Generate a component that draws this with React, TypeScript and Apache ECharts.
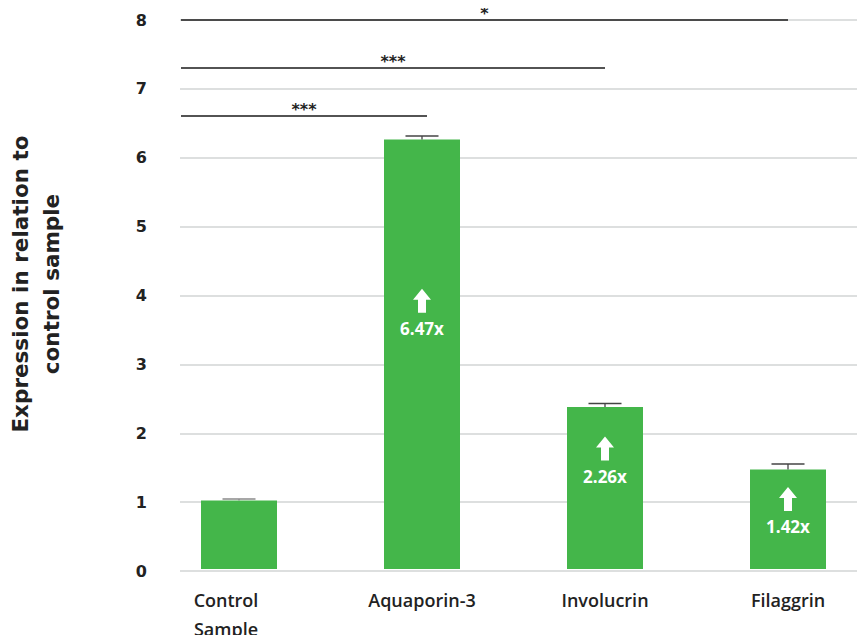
import React, { useEffect, useRef } from "react";
import * as echarts from "echarts";

const categories = ["Control\nSample", "Aquaporin-3", "Involucrin", "Filaggrin"];
const values = [1.0, 6.26, 2.36, 1.45];
const errors = [0.02, 0.05, 0.05, 0.08];
const foldLabels = ["", "6.47x", "2.26x", "1.42x"];
const yTicks = [0, 1, 2, 3, 4, 5, 6, 7, 8];
// significance brackets: [from category, to category, y level, stars]
const brackets: [number, number, number, string][] = [
  [0, 3, 8.0, "*"],
  [0, 2, 7.3, "***"],
  [0, 1, 6.6, "***"],
];

const GREEN = "#44b64a";
const labelFrac = [0.6, 0.594, 0.664, 0.573];

export default function App() {
  const ref = useRef<HTMLDivElement>(null);
  useEffect(() => {
    if (!ref.current) return;
    const chart = echarts.init(ref.current, undefined, { renderer: "svg" });
    const top = 20;
    const bottom = 72;
    const catFont = {
      color: "#222",
      fontFamily: "Open Sans",
      fontWeight: 600,
      fontSize: 18,
      lineHeight: 29,
    };
    const option: any = {
      animation: false,
      grid: [
        { left: 180, right: 0, top, bottom },
        { left: 239, right: 77, top, bottom },
      ],
      xAxis: [
        { gridIndex: 0, type: "category", data: categories, show: false },
        {
          gridIndex: 1,
          type: "category",
          data: categories,
          boundaryGap: false,
          axisLine: { show: false },
          axisTick: { show: false },
          axisLabel: {
            margin: 16,
            ...catFont,
            interval: 0,
            formatter: (v: string, i: number) =>
              i === 0 ? v.split("\n").map((s) => `{a|${s}}`).join("\n") : v,
            rich: { a: { ...catFont, padding: [0, 26, 0, 0] } },
          },
        },
      ],
      yAxis: [
        {
          gridIndex: 0,
          type: "value",
          min: 0,
          max: 8,
          interval: 1,
          axisLine: { show: false },
          axisTick: { show: false },
          splitLine: { show: true, lineStyle: { color: "#d2d4d4", width: 1.5 } },
          axisLabel: {
            margin: 33,
            color: "#222",
            fontFamily: "DejaVu Sans",
            fontWeight: "bold",
            fontSize: 16,
            formatter: (v: number) => (yTicks.includes(v) ? String(v) : ""),
          },
        },
        {
          gridIndex: 1,
          type: "value",
          min: 0,
          max: 8,
          interval: 1,
          show: false,
          splitLine: { show: false },
        },
      ],
      graphic: [
        {
          type: "text",
          x: 36,
          y: 284,
          rotation: Math.PI / 2,
          style: {
            text: "Expression in relation to\ncontrol sample",
            fontFamily: "DejaVu Sans",
            fontWeight: "bold",
            fontSize: 21.5,
            lineHeight: 31,
            fill: "#222",
            align: "center",
            verticalAlign: "middle",
          },
        },
      ],
      series: [
        {
          type: "bar",
          xAxisIndex: 1,
          yAxisIndex: 1,
          data: values,
          barWidth: 76,
          itemStyle: { color: GREEN },
          z: 2,
        },
        {
          type: "custom",
          xAxisIndex: 1,
          yAxisIndex: 1,
          z: 3,
          data: values.map((v, i) => [i, v, errors[i]]),
          renderItem: (params: any, api: any) => {
            const i = api.value(0);
            const v = api.value(1);
            const e = api.value(2);
            const p0 = api.coord([i, v]);
            const p1 = api.coord([i, v + e]);
            const color = i === 0 ? "#8a8a8a" : "#444";
            return {
              type: "group",
              children: [
                {
                  type: "line",
                  shape: { x1: p0[0], y1: p0[1], x2: p1[0], y2: p1[1] },
                  style: { stroke: color, lineWidth: 1.3 },
                },
                {
                  type: "line",
                  shape: { x1: p1[0] - 16.5, y1: p1[1], x2: p1[0] + 16.5, y2: p1[1] },
                  style: { stroke: color, lineWidth: 1.5 },
                },
              ],
            };
          },
        },
        {
          type: "custom",
          xAxisIndex: 1,
          yAxisIndex: 1,
          z: 4,
          data: values.map((v, i) => [i, v]),
          renderItem: (params: any, api: any) => {
            const idx = params.dataIndex;
            const txt = foldLabels[idx];
            if (!txt) return { type: "group", children: [] };
            const i = api.value(0);
            const v = api.value(1);
            const pt = api.coord([i, v]);
            const pb = api.coord([i, 0]);
            const cx = pt[0];
            const cy = pb[1] - labelFrac[idx] * (pb[1] - pt[1]);
            const y0 = cy - 25;
            return {
              type: "group",
              children: [
                {
                  type: "polygon",
                  shape: {
                    points: [
                      [cx, y0],
                      [cx + 9, y0 + 11],
                      [cx + 4, y0 + 11],
                      [cx + 4, y0 + 24],
                      [cx - 4, y0 + 24],
                      [cx - 4, y0 + 11],
                      [cx - 9, y0 + 11],
                    ],
                  },
                  style: { fill: "#fff" },
                },
                {
                  type: "text",
                  x: cx,
                  y: y0 + 40,
                  style: {
                    text: txt,
                    fill: "#fff",
                    fontFamily: "Open Sans",
                    fontWeight: "bold",
                    fontSize: 17,
                    align: "center",
                    verticalAlign: "middle",
                  },
                },
              ],
            };
          },
        },
        {
          type: "custom",
          xAxisIndex: 1,
          yAxisIndex: 1,
          z: 5,
          data: brackets.map((b) => [b[0], b[1], b[2]]),
          renderItem: (params: any, api: any) => {
            const idx = params.dataIndex;
            const from = api.value(0);
            const to = api.value(1);
            const y = api.value(2);
            const band = api.size([1, 0])[0];
            const a = api.coord([from, y]);
            const b = api.coord([to, y]);
            const x1 = a[0] - band * 0.317;
            const x2 = b[0] + (to === 1 ? 5 : 0);
            return {
              type: "group",
              children: [
                {
                  type: "line",
                  shape: { x1, y1: a[1], x2, y2: a[1] },
                  style: { stroke: "#1a1a1a", lineWidth: 1.5 },
                },
                {
                  type: "text",
                  x: (x1 + x2) / 2,
                  y: a[1] - 7,
                  style: {
                    text: brackets[idx][3],
                    fill: "#222",
                    fontFamily: "DejaVu Sans",
                    fontWeight: "bold",
                    fontSize: 16,
                    align: "center",
                    verticalAlign: "middle",
                  },
                },
              ],
            };
          },
        },
      ],
    };
    chart.setOption(option);
    return () => chart.dispose();
  }, []);
  return <div ref={ref} style={{ width: 865, height: 643, margin: "-8px -8px" }} />;
}
